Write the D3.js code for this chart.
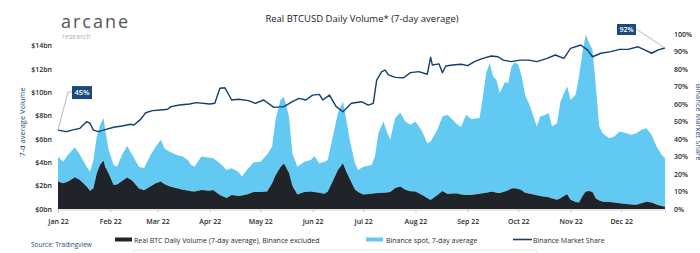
<!DOCTYPE html>
<html><head><meta charset="utf-8">
<script src="https://cdn.jsdelivr.net/npm/d3@7"></script>
<style>
html,body{margin:0;padding:0;background:#fff;}
svg{display:block;font-family:"Open Sans",sans-serif;}
</style></head><body>
<svg id="c" width="700" height="253"></svg>
<script>
// ---- DATA ----
// day offsets from 2022-01-01
const volDays = [0,3,6,10,13,17,19,21,23,25,27,28,30,33,35,38,41,44,48,51,55,58,61,63,66,70,74,77,79,81,85,90,92,96,100,103,107,109,112,116,120,124,127,129,132,134,137,139,142,146,150,152,155,158,160,163,166,169,171,173,176,178,181,186,188,190,193,195,197,200,203,206,209,212,216,219,221,225,228,231,234,237,239,242,245,250,252,254,256,258,260,262,265,267,269,271,273,275,277,280,282,284,286,289,291,293,296,298,301,302,304,307,309,311,313,315,317,319,321,323,327,330,333,337,340,343,346,349,352,355,358,360];
// Real BTC daily volume (7-day avg), Binance excluded, $bn
const exBinance = [2.35,2.2,2.35,2.72,2.49,1.92,1.57,1.78,3.07,3.8,4.15,3.6,3.07,2.06,2.1,2.4,2.7,2.45,1.75,1.6,1.95,2.2,2.35,2.15,1.95,1.8,1.65,1.58,1.52,1.49,1.63,1.57,1.63,1.2,0.95,1.2,1.12,1.15,1.25,1.45,1.45,1.5,2.2,2.9,3.6,3.9,3.1,2.0,1.25,1.45,1.49,1.45,1.4,1.3,1.5,2.4,3.35,3.92,3.2,2.6,1.7,1.45,1.25,1.3,1.35,1.37,1.4,1.42,1.45,1.8,1.92,1.65,1.52,1.49,1.2,0.95,0.77,1.2,1.55,1.29,1.33,1.33,1.25,1.2,1.2,1.3,1.35,1.4,1.45,1.48,1.4,1.37,1.49,1.6,1.75,1.78,1.72,1.6,1.4,1.3,1.25,1.18,1.12,1.05,1.0,0.9,0.8,0.92,1.2,1.26,0.8,0.6,0.55,1.1,1.49,1.55,1.45,0.9,0.72,0.63,0.6,0.55,0.5,0.43,0.38,0.36,0.5,0.63,0.55,0.38,0.25,0.2];
// Binance spot volume (7-day avg), $bn
const binanceSpot = [2.14,1.86,2.29,2.58,2.15,1.71,1.63,2.43,3.14,3.42,3.64,3.19,2.0,1.72,1.53,2.24,2.71,2.19,1.88,1.9,2.69,3.15,3.58,3.06,2.97,2.84,2.84,2.63,2.26,2.14,2.86,2.83,2.72,2.72,2.4,2.3,2.08,1.63,2.1,2.53,2.61,3.14,3.15,4.75,5.76,5.7,4.83,2.78,2.38,2.61,2.72,3.1,2.52,2.76,2.71,3.81,4.87,5.3,4.45,3.33,2.28,1.9,2.38,2.48,3.14,5.13,6.1,5.22,4.48,5.99,6.35,5.85,5.7,6.01,5.44,4.69,5.01,5.59,6.38,6.79,6.32,5.89,5.77,6.88,6.51,6.49,8.3,10.26,11.07,9.89,9.68,8.57,9.38,9.2,10.47,10.79,10.65,9.77,8.39,7.49,6.68,5.89,6.81,7.03,7.22,6.17,6.56,8.3,9.02,9.25,8.56,9.19,10.82,12.28,13.46,12.68,12.21,9.61,6.35,5.87,5.47,5.66,6.14,6.07,5.98,6.14,6.29,6.3,5.81,4.97,4.39,4.15];
// Binance market share, %
const shareDays = [0,5,10,13,17,19,21,24,27,33,38,43,45,49,52,56,61,65,67,72,78,82,90,93,96,99,103,107,113,117,122,128,134,139,143,147,151,155,157,161,165,169,174,180,184,187,189,192,194,196,200,205,209,214,219,221,222,226,228,230,234,239,243,247,252,257,261,264,269,274,279,284,290,295,300,304,310,314,317,322,328,333,338,344,348,352,356,360];
const marketShare = [45.1,44.2,45.5,46.1,49.9,49,45.1,44.2,45.1,46.7,47.4,48.4,48,51.2,55,56.2,56.6,57,58.5,59.4,60,60.8,60,60.4,69,69.3,62.3,62.7,61.9,60.4,62.3,58.1,58.5,61.3,63.2,62.3,65.1,65.5,62.3,65.1,58.5,55.6,60.4,61.3,59.4,60.4,73.7,78.5,79.4,76.6,75.2,75,77.9,78.5,77,86.7,82.3,82.9,77.9,81.7,82.3,82.7,81.9,84.2,86.1,87.4,87,85.1,84.2,85.1,85.1,84.2,86.1,88,86.1,91.8,93.7,90.9,87,89,89.9,91.2,91.2,92.7,90.9,89,90.9,92];
const volTicks = [0,2,4,6,8,10,12,14];
const shareTicks = [0,10,20,30,40,50,60,70,80,90,100];
const title = "Real BTCUSD Daily Volume* (7-day average)";
const legendLabels = ["Real BTC Daily Volume (7-day average), Binance excluded","Binance spot, 7-day average","Binance Market Share"];

// ---- CHART ----
const svg = d3.select("#c");
const start = new Date(2022,0,1);
const toDate = d => d3.timeDay.offset(start, d);
const x = d3.scaleTime().domain([start, toDate(360)]).range([58, 665]);
const yL = d3.scaleLinear().domain([0,15]).range([209,34]);
const yR = d3.scaleLinear().domain([0,100]).range([209,34]);

const NAVY = "#123f6d", BLUE = "#62c9f3", BLACK = "#202327";

const rows = volDays.map((d,i)=>({date:toDate(d), ex:exBinance[i], bin:binanceSpot[i]}));
const stack = d3.stack().keys(["ex","bin"])(rows);
const area = d3.area().x(d=>x(d.data.date)).y0(d=>yL(d[0])).y1(d=>yL(d[1]));
svg.append("path").datum(stack[1]).attr("d",area).attr("fill",BLUE);
svg.append("path").datum(stack[0]).attr("d",area).attr("fill",BLACK);

// x axis
const xAxis = d3.axisBottom(x).ticks(d3.timeMonth.every(1)).tickFormat(d3.timeFormat("%b %y")).tickSize(3).tickPadding(5);
const gx = svg.append("g").attr("transform","translate(0,209.5)").call(xAxis);
gx.select(".domain").attr("stroke","#d0d0d0");
gx.selectAll(".tick line").attr("stroke","#c8c8c8");
gx.selectAll("text").attr("font-size","7px").attr("font-weight",600).attr("fill","#2a2a2a").attr("font-family","Open Sans").attr("dy","0.9em");

// left axis
const gl = svg.append("g").attr("transform","translate(54,0)").call(d3.axisLeft(yL).tickValues(volTicks).tickFormat(d=>"$"+d+"bn").tickSize(0).tickPadding(2));
gl.select(".domain").remove();
gl.selectAll("text").attr("font-size","7px").attr("font-weight",600).attr("fill","#2a2a2a").attr("font-family","Open Sans");

// right axis
const gr = svg.append("g").attr("transform","translate(672,0)").call(d3.axisRight(yR).tickValues(shareTicks).tickFormat(d=>d+"%").tickSize(0).tickPadding(2));
gr.select(".domain").remove();
gr.selectAll("text").attr("font-size","7px").attr("font-weight",600).attr("fill","#2a2a2a").attr("font-family","Open Sans");

// share line
const sharePts = shareDays.map((d,i)=>({date:toDate(d), v:marketShare[i]}));
const line = d3.line().x(d=>x(d.date)).y(d=>yR(d.v));
svg.append("path").datum(sharePts).attr("d",line).attr("fill","none").attr("stroke",NAVY).attr("stroke-width",1.4).attr("stroke-linejoin","round");

// annotations
const first = sharePts[0], last = sharePts[sharePts.length-1];
const fx = x(first.date), fy = yR(first.v);
svg.append("polyline").attr("points",`${fx},${fy} ${fx+10},${fy-38} ${fx+14},${fy-38}`).attr("fill","none").attr("stroke","#a9a9a9").attr("stroke-width",0.8);
svg.append("rect").attr("x",fx+14).attr("y",fy-44).attr("width",20).attr("height",13).attr("fill","#1b4b7a");
svg.append("text").attr("x",fx+24).attr("y",fy-35).attr("text-anchor","middle").attr("font-size","7.5px").attr("font-weight",600).attr("fill","#fff").text(Math.round(first.v)+"%");
const lx = x(last.date), ly = yR(last.v);
svg.append("line").attr("x1",lx-29).attr("y1",ly-19).attr("x2",lx).attr("y2",ly).attr("stroke","#a9a9a9").attr("stroke-width",0.8);
svg.append("rect").attr("x",lx-48).attr("y",ly-24).attr("width",19).attr("height",11).attr("fill","#1b4b7a");
svg.append("text").attr("x",lx-38.5).attr("y",ly-16).attr("text-anchor","middle").attr("font-size","7px").attr("font-weight",600).attr("fill","#fff").text(Math.round(last.v)+"%");

// title
svg.append("text").attr("x",362).attr("y",22).attr("text-anchor","middle").attr("font-size","9.5px").attr("font-weight",500).attr("fill","#222").text(title);

// logo
svg.append("text").attr("x",61).attr("y",28).attr("font-size","18px").attr("font-weight",400).attr("letter-spacing","2px").attr("fill","#555").text("arcane");
svg.append("text").attr("x",62).attr("y",39).attr("font-size","6.5px").attr("fill","#aaa").attr("letter-spacing","0.3px").text("research");

// axis titles
svg.append("text").attr("transform","translate(25,122) rotate(-90)").attr("text-anchor","middle").attr("font-size","7.5px").attr("font-weight",500).attr("fill","#1b4b7a").text("7-d average Volume");
svg.append("text").attr("transform","translate(696,122) rotate(90)").attr("text-anchor","middle").attr("font-size","7.5px").attr("font-weight",500).attr("fill","#1b4b7a").text("Binance Market Share");

// source
svg.append("text").attr("x",31).attr("y",247).attr("font-size","6.5px").attr("font-weight",500).attr("fill","#1b4b7a").text("Source: Tradingview");

// faint box
svg.append("path").attr("d","M133,253 L133,250 L537,250 L537,253").attr("fill","none").attr("stroke","#e2e2e2").attr("stroke-width",0.8);

// legend
const lg = svg.append("g");
lg.append("rect").attr("x",115).attr("y",237.5).attr("width",17).attr("height",4).attr("fill",BLACK);
lg.append("text").attr("x",134).attr("y",242.5).attr("font-size","7px").attr("font-weight",500).attr("fill","#2a2a2a").text(legendLabels[0]);
lg.append("rect").attr("x",366).attr("y",237.5).attr("width",17).attr("height",4).attr("fill",BLUE);
lg.append("text").attr("x",386).attr("y",242.5).attr("font-size","7px").attr("font-weight",500).attr("fill","#2a2a2a").text(legendLabels[1]);
lg.append("line").attr("x1",513).attr("x2",532).attr("y1",239.5).attr("y2",239.5).attr("stroke",NAVY).attr("stroke-width",1.6);
lg.append("text").attr("x",533).attr("y",242.5).attr("font-size","7px").attr("font-weight",500).attr("fill","#2a2a2a").text(legendLabels[2]);
</script>
</body></html>
